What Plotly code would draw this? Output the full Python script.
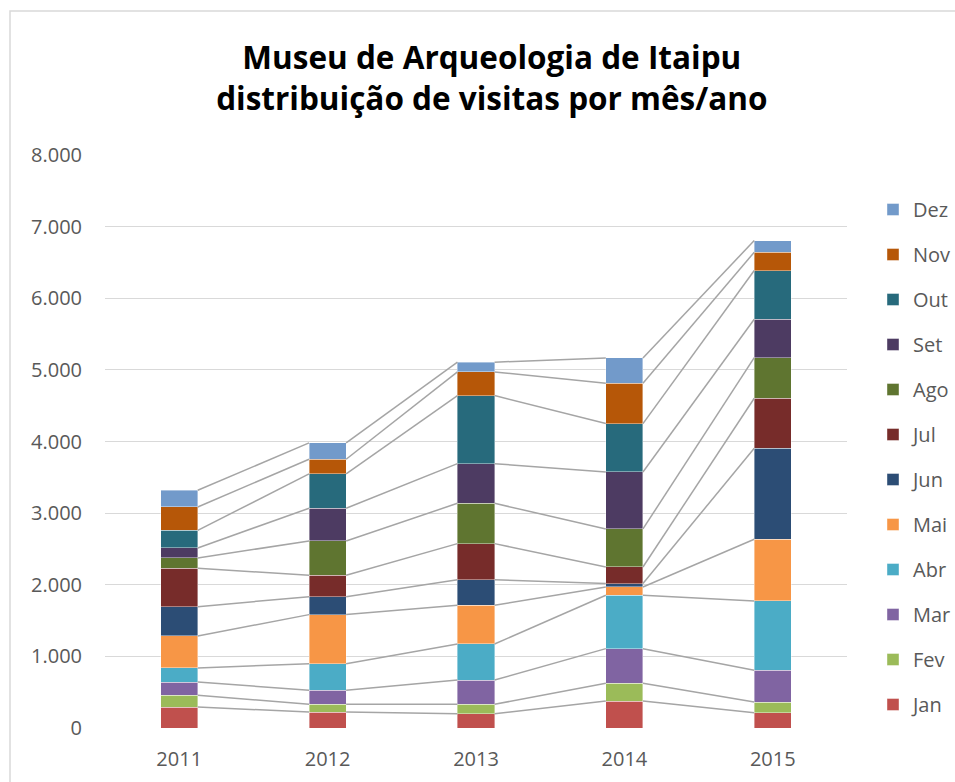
import plotly.graph_objects as go
import numpy as np

years = ["2011", "2012", "2013", "2014", "2015"]
months = ["Jan", "Fev", "Mar", "Abr", "Mai", "Jun", "Jul", "Ago", "Set", "Out", "Nov", "Dez"]

jan = [293, 223, 200, 377, 214]
fev = [163, 108, 131, 247, 149]
mar = [186, 195, 339, 484, 442]
abr = [196, 372, 503, 745, 969]
mai = [447, 685, 540, 116, 861]
jun = [409, 251, 358, 47, 1271]
jul = [536, 298, 503, 232, 698]
ago = [144, 479, 563, 531, 568]
set_ = [140, 457, 554, 796, 535]
out = [246, 479, 950, 675, 680]
nov = [326, 205, 331, 563, 256]
dez = [233, 228, 135, 354, 163]

series = [jan, fev, mar, abr, mai, jun, jul, ago, set_, out, nov, dez]
colors = ["#C0504D", "#9BBB59", "#8064A2", "#4BACC6", "#F79646", "#2C4D75",
          "#772C2A", "#5F7530", "#4D3B62", "#276A7C", "#B65708", "#729ACA"]

ytickvals = [0, 1000, 2000, 3000, 4000, 5000, 6000, 7000, 8000]
yticktext = ["0", "1.000", "2.000", "3.000", "4.000", "5.000", "6.000", "7.000", "8.000"]

FONT = "Open Sans"
bar_w = 0.25
xpos = np.arange(len(years))

fig = go.Figure()

# series lines (connecting cumulative tops between bars)
cum = np.cumsum(np.array(series), axis=0)
for k in range(len(months)):
    lx, ly = [], []
    for i in range(len(years) - 1):
        lx += [xpos[i] + bar_w / 2, xpos[i + 1] - bar_w / 2, None]
        ly += [cum[k][i], cum[k][i + 1], None]
    fig.add_trace(go.Scatter(x=lx, y=ly, mode="lines",
                             line=dict(color="#A5A5A5", width=1.5),
                             showlegend=False, hoverinfo="skip"))

for k, (m, vals) in enumerate(zip(months, series)):
    fig.add_trace(go.Bar(x=xpos, y=vals, name=m, width=bar_w,
                         marker=dict(color=colors[k],
                                     line=dict(color="rgba(255,255,255,0.5)", width=0.8)),
                         legendgroup=m, legendrank=100 - k))

fig.update_layout(
    barmode="stack",
    width=955, height=782,
    margin=dict(l=105, r=108, t=155, b=54, autoexpand=False),
    paper_bgcolor="white", plot_bgcolor="white",
    font=dict(family=FONT, color="#595959", size=20),
    title=dict(text="<b>Museu de Arqueologia de Itaipu<br>distribuição de visitas por mês/ano</b>",
               x=0.515, xanchor="center", y=0.912, yanchor="top",
               font=dict(family=FONT, size=31.5, color="black")),
    xaxis=dict(range=[-0.5, 4.5], tickvals=list(xpos), ticktext=years,
               showgrid=False, zeroline=False, showline=False,
               ticks="", ticklabelstandoff=17,
               tickfont=dict(size=20, color="#595959")),
    yaxis=dict(range=[0, 8000], tickvals=ytickvals, ticktext=yticktext,
               showgrid=True, gridcolor="#D9D9D9", gridwidth=1.3,
               zeroline=False, showline=False, ticks="",
               ticklabelstandoff=22,
               tickfont=dict(size=20, color="#595959")),
    legend=dict(xref="container", yref="container",
                x=873 / 955, xanchor="left", y=1 - 190 / 782, yanchor="top",
                traceorder="grouped", tracegroupgap=16, maxheight=760,
                font=dict(size=20, color="#595959"),
                itemwidth=30, bgcolor="rgba(0,0,0,0)"),
    showlegend=True,
    shapes=[dict(type="rect", xref="paper", yref="paper",
                 x0=(10 - 105) / 742, x1=(1100 - 105) / 742,
                 y0=-0.5, y1=1 + (155 - 11) / 573,
                 line=dict(color="#D9D9D9", width=1.5), fillcolor="rgba(0,0,0,0)",
                 layer="below")],
)

fig.write_html("out.html", config={"displayModeBar": False},
               post_script="document.body.style.margin='0';document.body.style.overflow='hidden';")
